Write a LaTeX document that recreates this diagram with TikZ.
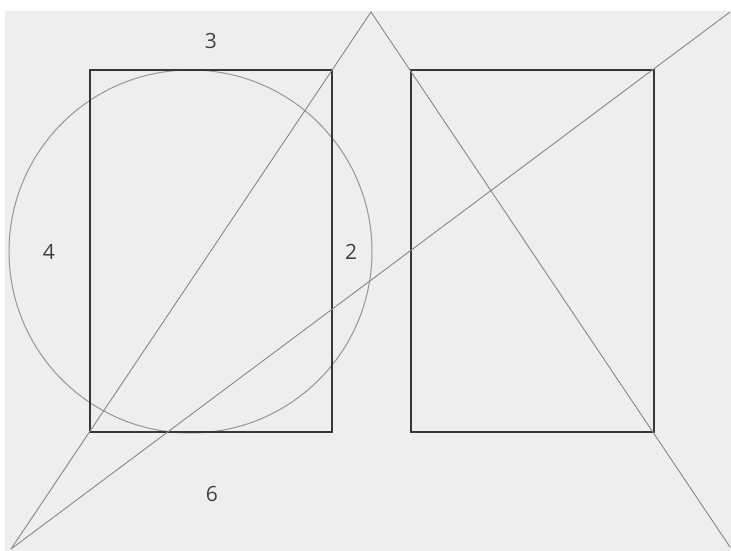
\documentclass[tikz,border=0pt]{standalone}
\usepackage{fontspec}
\setmainfont{Open Sans}
\definecolor{paper}{RGB}{238,238,238}
\definecolor{frame}{RGB}{55,55,55}
\definecolor{guide}{RGB}{135,135,135}
\definecolor{ring}{RGB}{150,150,150}
\begin{document}
\begin{tikzpicture}[x=1pt,y=-1pt,
  boxline/.style={draw=frame,line width=1.4pt},
  guideline/.style={draw=guide,line width=0.9pt},
  ringline/.style={draw=ring,line width=1pt},
  lbl/.style={font=\fontsize{21}{21}\selectfont,text=black!75,inner sep=0pt}]
\useasboundingbox (0,0) rectangle (731,551);
\fill[white] (0,0) rectangle (731,551);
\fill[paper] (5,11) rectangle (731,551);
% points
\coordinate (apex) at (371,12);
\coordinate (bl) at (11,549);
\coordinate (tr) at (730,12);
\coordinate (br) at (730,547);
% left page
\coordinate (L1) at (90,70);
\coordinate (L2) at (332,432);
% right page
\coordinate (R1) at (411,70);
\coordinate (R2) at (654,432);
\coordinate (C) at (190.5,251.5);
\draw[ringline] (C) circle[radius=181.5];
\draw[boxline] (L1) rectangle (L2);
\draw[boxline] (R1) rectangle (R2);
\draw[guideline] (bl) -- (apex) -- (br);
\draw[guideline] (bl) -- (tr);
\node[lbl] (n3) at (211,41) {3};
\node[lbl] (n4) at (49,252) {4};
\node[lbl] (n2) at (351,252) {2};
\node[lbl] (n6) at (212,494) {6};
\end{tikzpicture}
\end{document}
